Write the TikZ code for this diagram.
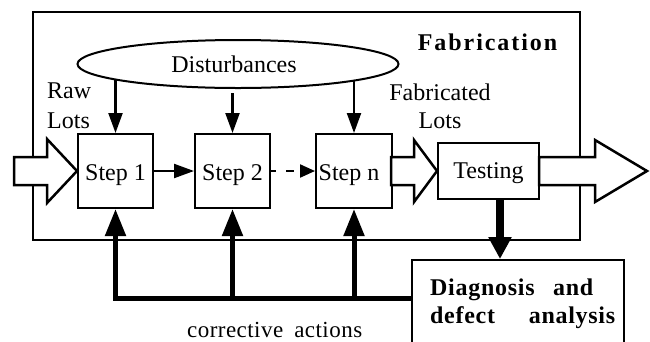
\documentclass[tikz,border=0pt]{standalone}
\usepackage{fontspec}
\setmainfont{Liberation Serif}
\usetikzlibrary{arrows.meta,shapes.geometric,calc}
\begin{document}
\begin{tikzpicture}[x=1pt,y=-1pt,
  lbl/.style={font=\fontsize{24}{28}\selectfont, inner sep=0pt},
  boldlbl/.style={font=\fontsize{24}{28}\selectfont\bfseries\addfontfeatures{LetterSpace=8}, inner sep=0pt},
  stepbox/.style={draw,line width=2pt,minimum width=75pt,minimum height=74pt,inner sep=0pt,
    font=\fontsize{24}{28}\selectfont,text height=18pt,text depth=0pt},
  thinarrow/.style={line width=2.2pt,-{Triangle[length=20pt,width=14pt]}},
  fb/.style={line width=5pt,line join=miter,-{Triangle[length=27pt,width=20pt]}},
  hollow/.style={draw,fill=white,line width=2.5pt,line join=miter}
]
\useasboundingbox (0,0) rectangle (650,341);
\clip (0,0) rectangle (650,341);

% fabrication frame
\node[draw,line width=1.6pt,minimum width=547pt,minimum height=228pt,inner sep=0pt] (frame) at (306.5,126) {};
\node[boldlbl,anchor=base] (fabtitle) at (487.5,50) {Fabrication};

% disturbances
\node[ellipse,draw,line width=2pt,minimum width=321pt,minimum height=48pt,inner sep=0pt,
  font=\fontsize{24}{28}\selectfont,text height=16pt,text depth=0pt] (ell) at (238,64) {\hspace*{-8pt}Disturbances};

% steps
\node[stepbox] (s1) at (115.5,171) {Step 1};
\node[stepbox] (s2) at (232.5,171) {Step 2};
\node[stepbox,minimum width=76pt] (sn) at (354,171) {\hspace*{-10pt}Step n};
\node[stepbox,minimum width=101pt,minimum height=56pt,text height=14pt] (test) at (488.5,171) {Testing};

% diagnosis
\node[draw,line width=2pt,minimum width=212pt,minimum height=100pt,anchor=north west,inner sep=0pt] (diag) at (411,259) {};
\node[boldlbl,anchor=base west,font=\fontsize{24}{28}\selectfont\bfseries\addfontfeatures{LetterSpace=3}] (d1) at (430,295) {\makebox[163pt][l]{Diagnosis\hfill and}};
\node[boldlbl,anchor=base west,font=\fontsize{24}{28}\selectfont\bfseries\addfontfeatures{LetterSpace=3}] (d2) at (430,323) {\makebox[185pt][l]{defect\hfill analysis}};

% labels
\node[lbl,anchor=base west] (raw1) at (47,98) {Raw};
\node[lbl,anchor=base west] (raw2) at (47,128) {Lots};
\node[lbl,anchor=base] (fl1) at (440,100) {Fabricated};
\node[lbl,anchor=base] (fl2) at (440,128) {Lots};
\node[lbl,anchor=base west,font=\fontsize{23}{27}\selectfont\addfontfeatures{LetterSpace=2}] (corr) at (187,337) {corrective\hspace{11pt}actions};

% disturbance arrows
\draw[thinarrow] (s1.north |- ell.187) -- (s1.north);
\draw[thinarrow,shorten <=4pt] (s2.north |- ell.south) -- (s2.north);
\draw[thinarrow] (sn.north |- ell.352) -- (sn.north);

% step flow
\draw[thinarrow] (s1.east) -- (s2.west);
\draw[line width=2.2pt,dash pattern=on 5pt off 10pt on 8pt off 9pt,-{Triangle[length=15pt,width=13pt]}] (s2.east) -- (sn.west);

% hollow arrows
\draw[hollow] (s1.west) -- ++(-30,-32) -- ++(0,18) -- ++(-33,0) -- ++(0,28) -- ++(33,0) -- ++(0,18) -- cycle;
\draw[hollow] (test.west) -- ++(-23,-31) -- ++(0,17) -- ++(-23,0) -- ++(0,28) -- ++(23,0) -- ++(0,17) -- cycle;
\coordinate (outtip) at (647,171);
\draw[hollow] (outtip) -- ++(-52,-31) -- ++(0,17) -- ++(-56,0) -- ++(0,28) -- ++(56,0) -- ++(0,17) -- cycle;

% testing to diagnosis
\coordinate (tdown) at ([xshift=11.5pt]test.south);
\draw[line width=8pt,-{Triangle[length=22pt,width=22pt]}] (tdown) -- (tdown |- diag.north);

% feedback
\coordinate (fbR) at (411,298);
\draw[fb] (fbR) -| (s1.south);
\draw[fb] (s2.south |- fbR) -- (s2.south);
\draw[fb] (sn.south |- fbR) -- (sn.south);
\end{tikzpicture}
\end{document}
